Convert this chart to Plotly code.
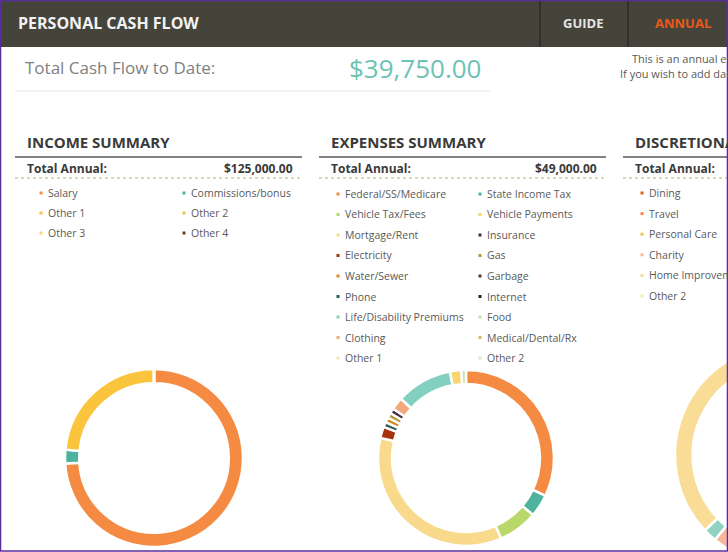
"""Personal cash flow dashboard, annual view."""

import plotly.graph_objects as go

# canvas is larger than the window; the page clips it at 728x552
W, H = 900, 600

# --- data -------------------------------------------------------------
total_cash_flow = "$39,750.00"
income_total = "$125,000.00"
expenses_total = "$49,000.00"

income_labels = ["Salary", "Commissions/bonus", "Other 1", "Other 2", "Other 3", "Other 4"]
income_values = [74, 2.5, 23.5, 0, 0, 0]
income_colors = ["#f58b42", "#4db39e", "#fbc43d", "#8e44ad", "#f7d57a", "#6b3a2a"]

# pie order (clockwise from top)
expense_labels = ["Federal/SS/Medicare", "State Income Tax", "Vehicle Tax/Fees", "Mortgage/Rent",
                  "Electricity", "Phone", "Water/Sewer", "Gas", "Insurance", "Clothing",
                  "Life/Disability Premiums", "Vehicle Payments", "Food"]
expense_values = [31, 4, 7, 34, 2, 0.9, 0.9, 0.9, 0.9, 2.2, 10, 2, 0.8]
expense_colors = ["#f58b42", "#4db39e", "#b9d86a", "#f9d98c", "#a83210", "#2f5e55", "#d98a1a",
                  "#b59a3a", "#4a2a40", "#f5a77d", "#84d0c0", "#f8d46a", "#c8e0a8"]

disc_labels = ["Dining", "Travel", "Personal Care", "Charity", "Other 2", "Home Improvement"]
disc_values = [25, 20, 12, 4, 2, 37]
disc_colors = ["#e8591a", "#f58b42", "#f3c44e", "#f7b89a", "#8fd3c4", "#f9dc95"]

income_legend = [("Salary", "#f58b42"), ("Other 1", "#fbc43d"), ("Other 3", "#f7d57a"),
                 ("Commissions/bonus", "#4db39e"), ("Other 2", "#e8c44a"), ("Other 4", "#6b3a2a")]
expense_legend_1 = [("Federal/SS/Medicare", "#f58b42"), ("Vehicle Tax/Fees", "#b9d86a"),
                    ("Mortgage/Rent", "#f9d98c"), ("Electricity", "#a83210"),
                    ("Water/Sewer", "#d98a1a"), ("Phone", "#2f5e55"),
                    ("Life/Disability Premiums", "#84d0c0"), ("Clothing", "#f5a77d"),
                    ("Other 1", "#f2e4b0")]
expense_legend_2 = [("State Income Tax", "#4db39e"), ("Vehicle Payments", "#f8d46a"),
                    ("Insurance", "#4a2a40"), ("Gas", "#b59a3a"), ("Garbage", "#5a3a2a"),
                    ("Internet", "#222222"), ("Food", "#c8e0a8"),
                    ("Medical/Dental/Rx", "#e0b070"), ("Other 2", "#d8e8c8")]
disc_legend = [("Dining", "#e8591a"), ("Travel", "#f58b42"), ("Personal Care", "#f3c44e"),
               ("Charity", "#f7b89a"), ("Home Improvement", "#f9dc95"), ("Other 2", "#fbe8b8")]


def px(x):
    return x / W


def py(y):
    return 1 - y / H


def dom(cx, cy, r):
    return dict(x=[px(cx - r), px(cx + r)], y=[py(cy + r), py(cy - r)])


fig = go.Figure()
for labels, values, colors, d in [
    (income_labels, income_values, income_colors, dom(154, 458, 89)),
    (expense_labels, expense_values, expense_colors, dom(466, 458, 88)),
    (disc_labels, disc_values, disc_colors, dom(785, 455, 110)),
]:
    fig.add_trace(go.Pie(labels=labels, values=values, sort=False, direction="clockwise",
                         rotation=0, hole=0.84, textinfo="none", hoverinfo="skip",
                         marker=dict(colors=colors, line=dict(color="white", width=2.5)),
                         domain=d, showlegend=False))

shapes = []
ann = []


def rect(x0, y0, x1, y1, fill, line=None):
    shapes.append(dict(type="rect", xref="paper", yref="paper", x0=px(x0), x1=px(x1),
                       y0=py(y1), y1=py(y0), fillcolor=fill, line=line or dict(width=0),
                       layer="below"))


def hline(x0, x1, y, color, width=1, dash="solid"):
    shapes.append(dict(type="line", xref="paper", yref="paper", x0=px(x0), x1=px(x1),
                       y0=py(y), y1=py(y), line=dict(color=color, width=width, dash=dash)))


def text(x, y, s, size=11, color="#595959", anchor="left", bold=False):
    if bold:
        s = "<b>" + s + "</b>"
    ann.append(dict(x=px(x), y=py(y), xref="paper", yref="paper", text=s, showarrow=False,
                    xanchor=anchor, yanchor="middle", font=dict(size=size, color=color)))


# header
rect(0, 0, W, 47, "#45443b")
shapes.append(dict(type="line", xref="paper", yref="paper", x0=px(540), x1=px(540),
                   y0=py(47), y1=1, line=dict(color="#2c2b25", width=1.5)))
shapes.append(dict(type="line", xref="paper", yref="paper", x0=px(628), x1=px(628),
                   y0=py(47), y1=1, line=dict(color="#2c2b25", width=1.5)))
text(16, 23, "PERSONAL CASH FLOW", 16, "#f2f2f2", bold=True)
text(583, 23, "GUIDE", 13, "#e6e6e6", "center", bold=True)
text(683, 23, "ANNUAL", 13, "#e8591a", "center", bold=True)

text(23, 67, "Total Cash Flow to Date:", 17, "#7f7f7f")
text(484, 68, total_cash_flow, 26, "#6cc3b3", "right")
hline(15, 490, 91, "#e3e3e3")
text(630, 58, "This is an annual estimate of your cash flow.", 11, "#595959")
text(618, 74, "If you wish to add daily expenses, use the guide.", 11, "#595959")

# section headers
for x0, x1, title, total in [(15, 302, "INCOME SUMMARY", income_total),
                             (319, 606, "EXPENSES SUMMARY", expenses_total),
                             (623, 900, "DISCRETIONARY SUMMARY", None)]:
    text(x0 + 10, 142, title, 15, "#3a3a3a", bold=True)
    hline(x0, x1, 157, "#595959", 1.5)
    text(x0 + 10, 168, "Total Annual:", 12, "#3a3a3a", bold=True)
    if total:
        text(x1 - 7, 168, total, 12, "#3a3a3a", "right", bold=True)
    hline(x0, x1, 178, "#cfca95", 1.5, "dot")


def legend(items, bx, y0, step):
    for i, (name, col) in enumerate(items):
        y = y0 + i * step
        rect(bx - 1.5, y - 1.5, bx + 1.5, y + 1.5, col)
        text(bx + 5, y, name, 10.5, "#595959")


legend(income_legend[:3], 41, 193, 20)
legend(income_legend[3:], 184, 193, 20)
legend(expense_legend_1, 338, 194, 20.5)
legend(expense_legend_2, 480, 194, 20.5)
legend(disc_legend, 642, 193, 20.6)

# window border
shapes.append(dict(type="rect", xref="paper", yref="paper", x0=px(0.5), x1=px(727.5),
                   y0=py(551), y1=py(0.5), line=dict(color="#5a2d9c", width=1.5)))

fig.update_layout(width=W, height=H, autosize=False, margin=dict(l=0, r=0, t=0, b=0),
                  paper_bgcolor="white", plot_bgcolor="white",
                  font=dict(family="Open Sans, DejaVu Sans, sans-serif"),
                  shapes=shapes, annotations=ann)

fig.write_html("out.html", post_script=(
    "document.body.style.margin='0';document.body.style.overflow='hidden';"
    "document.documentElement.style.overflow='hidden';"))
